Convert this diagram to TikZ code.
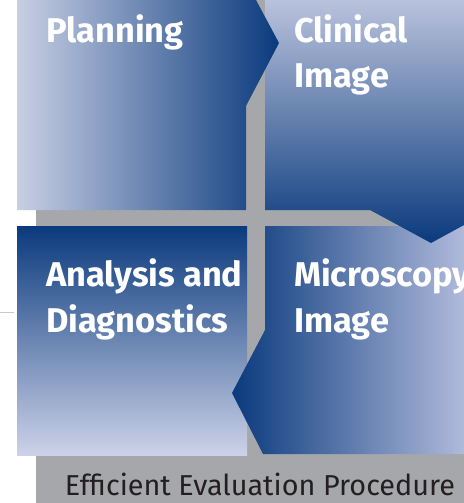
\documentclass[tikz,border=0pt]{standalone}
\usepackage{fontspec}
\setmainfont{Fira Sans}
\definecolor{dkblue}{RGB}{10,58,125}
\definecolor{ltA}{RGB}{200,207,228}
\definecolor{ltB}{RGB}{185,194,220}
\definecolor{ltC}{RGB}{204,210,232}
\definecolor{ltD}{RGB}{176,186,219}
\definecolor{band}{RGB}{166,167,170}
\definecolor{rule}{RGB}{200,200,200}
\definecolor{txt}{RGB}{35,31,32}
\tikzset{
  lbl/.style={anchor=base west, inner sep=0pt, text=white, font=\fontsize{34.5}{34.5}\selectfont\bfseries},
  foot/.style={anchor=base, inner sep=0pt, text=txt, font=\fontsize{28.9}{28.9}\selectfont}
}
\begin{document}
\begin{tikzpicture}[x=1bp,y=-1bp]
\useasboundingbox (0,0) rectangle (464,503);
\fill[band] (36,0) rectangle (464,503);
\draw[rule, line width=1bp] (0,312) -- (14,312);
% Analysis
\shade[top color=dkblue, bottom color=ltC] (17,226) rectangle (247,455);
% Microscopy
\shade[left color=dkblue, right color=ltD] (265,226) -- (464,226) -- (464,454) -- (263,454) -- (232,393) -- (265,330) -- cycle;
% Clinical
\shade[top color=ltB, bottom color=dkblue] (265,0) -- (464,0) -- (464,225) -- (431,243) -- (370,210) -- (265,210) -- cycle;
% Planning
\shade[left color=ltA, right color=dkblue] (17,0) -- (256,0) -- (279,43) -- (246,106) -- (246,210) -- (17,210) -- cycle;
\node[lbl] (planning) at (46,43) {Planning};
\node[lbl] (clin1) at (294,43) {Clinical};
\node[lbl] (clin2) at (294,88) {Image};
\node[lbl] (ana1) at (46,286) {Analysis and};
\node[lbl] (ana2) at (46,332) {Diagnostics};
\node[lbl] (mic1) at (294,286) {Microscopy};
\node[lbl] (mic2) at (294,332) {Image};
\node[foot] (footer) at (260,495) {Efficient Evaluation Procedure};
\end{tikzpicture}
\end{document}
